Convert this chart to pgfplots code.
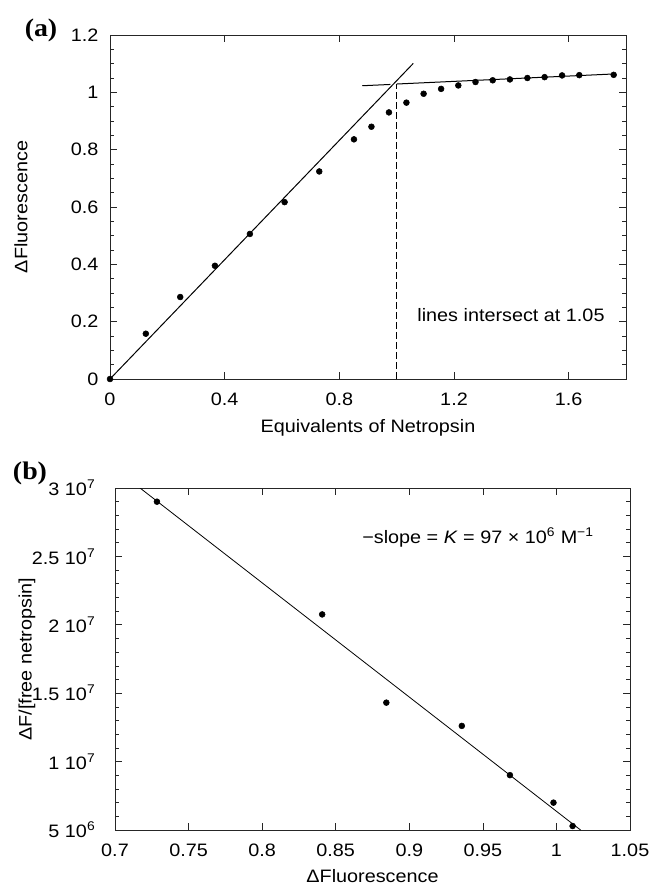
\documentclass[border=0pt]{standalone}
\usepackage{fontspec}
\setmainfont{Liberation Sans}[FakeStretch=1.1]
\newfontfamily\panelfont{Liberation Serif}[FakeStretch=1.1]
\usepackage{pgfplots}
\pgfplotsset{compat=1.18}

\pgfplotsset{
  panel/.style={
    scale only axis,
    anchor=south west,
    axis line style={line width=0.6pt, black!85},
    tick style={line width=0.5pt, black!85},
    major tick length=5pt,
    minor tick length=3pt,
    tick align=inside,
    /pgf/number format/assume math mode=true,
    xticklabel style={yshift=-6pt},
    yticklabel style={xshift=-4pt},
    scaled x ticks=false,
    scaled y ticks=false,
  },
  dot/.style={only marks, mark=*, mark size=2.2pt, black},
  fit/.style={black, line width=0.75pt, mark=none},
}

\begin{document}
\fontsize{13.5}{16}\selectfont
\begin{tikzpicture}[font=\fontsize{13.5}{16}\selectfont]
\path[use as bounding box] (0,0) rectangle (486.75pt,-666pt);

% ---------------- (a) titration ----------------
\begin{axis}[panel,
  at={(82.5pt,-284.25pt)}, width=387pt, height=258pt,
  xmin=0, xmax=1.8, ymin=0, ymax=1.2,
  xtick={0,0.4,0.8,1.2,1.6},
  ytick={0,0.2,0.4,0.6,0.8,1,1.2},
  minor y tick num=3,
  xlabel={Equivalents of Netropsin},
  ylabel={ΔFluorescence},
  xlabel style={at={(axis description cs:0.5,-0.1424)}, anchor=center},
  ylabel style={at={(axis description cs:-0.1725,0.5)}, anchor=center},
]
\addplot[dot] coordinates {
  (0,0) (0.125,0.158) (0.245,0.286) (0.366,0.395) (0.488,0.506)
  (0.609,0.617) (0.730,0.724) (0.851,0.836) (0.912,0.880) (0.973,0.930)
  (1.034,0.964) (1.094,0.995) (1.155,1.012) (1.215,1.024) (1.275,1.036)
  (1.335,1.042) (1.395,1.045) (1.456,1.050) (1.516,1.053) (1.577,1.059)
  (1.637,1.060) (1.757,1.061)
};
% initial slope
\addplot[fit] coordinates {(0,0) (1.058,1.101)};
% plateau
\addplot[fit] coordinates {(0.88,1.023) (0.978,1.0275)};
\addplot[fit] coordinates {(1.0,1.029) (1.756,1.064)};
% intersection marker
\addplot[black, line width=1pt, dash pattern=on 5pt off 2.5pt] coordinates {(1.0,0) (1.0,1.029)};
\node[anchor=east] at (axis cs:1.747,0.223) {lines intersect at 1.05};
\end{axis}

% ---------------- (b) Scatchard ----------------
\begin{axis}[panel,
  at={(86.25pt,-622.5pt)}, width=386.25pt, height=256.5pt,
  xmin=0.7, xmax=1.05, ymin=5e6, ymax=3e7,
  xtick={0.7,0.75,0.8,0.85,0.9,0.95,1,1.05},
  ytick={5e6,1e7,1.5e7,2e7,2.5e7,3e7},
  yticklabels={5 10\textsuperscript{6}, 1 10\textsuperscript{7}, 1.5 10\textsuperscript{7}, 2 10\textsuperscript{7}, 2.5 10\textsuperscript{7}, 3 10\textsuperscript{7}},
  yticklabel style={xshift=-6pt},
  minor y tick num=4,
  xlabel={ΔFluorescence},
  ylabel={ΔF/[free netropsin]},
  xlabel style={at={(axis description cs:0.5,-0.136)}, anchor=center},
  ylabel style={at={(axis description cs:-0.1709,0.5)}, anchor=center},
]
\addplot[dot] coordinates {
  (0.7285,2.90e7) (0.8408,2.076e7) (0.8844,1.431e7) (0.9357,1.261e7)
  (0.9684,9.01e6) (0.998,7.0e6) (1.011,5.29e6)
};
\addplot[fit, line width=0.6pt] coordinates {(0.717,3e7) (1.0164,5e6)};
\node[anchor=east] at (axis cs:1.0296,2.635e7)
  {−slope = \textit{K} = 97 × 10\textsuperscript{6} M\textsuperscript{−1}};
\end{axis}

\node[font=\panelfont\bfseries\fontsize{19}{22}\selectfont] at (30.75pt,-22.5pt) {(a)};
\node[font=\panelfont\bfseries\fontsize{19}{22}\selectfont] at (22.5pt,-354.75pt) {(b)};
\end{tikzpicture}
\end{document}
